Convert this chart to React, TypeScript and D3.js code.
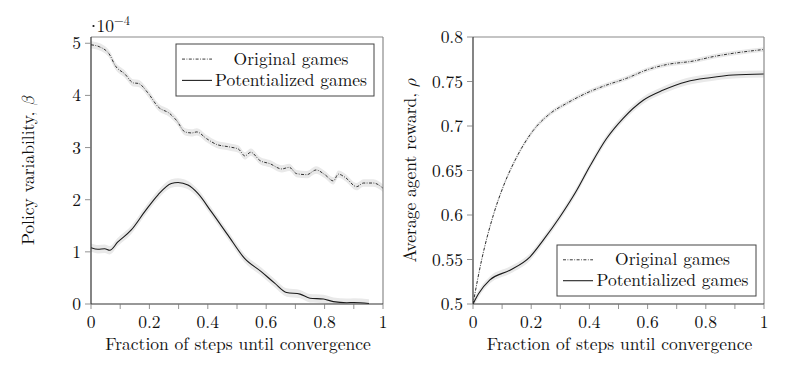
import React from "react";
import * as d3 from "d3";

// ---------- Data ----------
// Left panel: policy variability (×1e-4)
const leftOrigX = [0, 0.03, 0.065, 0.082, 0.116, 0.145, 0.162, 0.196, 0.23, 0.27, 0.293, 0.322, 0.345, 0.362, 0.396, 0.43, 0.476, 0.505, 0.527, 0.547, 0.579, 0.613, 0.653, 0.679, 0.704, 0.739, 0.771, 0.801, 0.83, 0.847, 0.87, 0.91, 0.933, 0.967, 1.0];
const leftOrigY = [4.97, 4.93, 4.77, 4.58, 4.41, 4.24, 4.23, 4.04, 3.78, 3.65, 3.52, 3.3, 3.28, 3.3, 3.17, 3.06, 3.01, 2.97, 2.84, 2.91, 2.75, 2.69, 2.59, 2.62, 2.5, 2.48, 2.57, 2.48, 2.36, 2.49, 2.43, 2.25, 2.32, 2.32, 2.22];
const leftPotX = [0, 0.024, 0.047, 0.064, 0.092, 0.138, 0.184, 0.229, 0.275, 0.298, 0.332, 0.366, 0.412, 0.469, 0.526, 0.583, 0.629, 0.67, 0.716, 0.75, 0.796, 0.83, 0.876, 0.9, 0.952];
const leftPotY = [1.08, 1.05, 1.06, 1.03, 1.19, 1.42, 1.77, 2.09, 2.31, 2.33, 2.28, 2.12, 1.77, 1.32, 0.875, 0.62, 0.4, 0.22, 0.19, 0.11, 0.096, 0.045, 0.025, 0.03, 0.01];
const leftOrigBand = 0.07;
const leftPotBand = 0.08;

// Right panel: average agent reward
const rightOrigX = [0, 0.03, 0.07, 0.104, 0.15, 0.207, 0.265, 0.322, 0.39, 0.459, 0.528, 0.597, 0.665, 0.757, 0.826, 0.894, 1.0];
const rightOrigY = [0.5, 0.55, 0.6, 0.632, 0.665, 0.695, 0.714, 0.7255, 0.737, 0.746, 0.7536, 0.763, 0.769, 0.773, 0.778, 0.7817, 0.786];
const rightPotX = [0, 0.02, 0.058, 0.127, 0.196, 0.242, 0.299, 0.357, 0.402, 0.459, 0.516, 0.585, 0.654, 0.734, 0.814, 0.894, 1.0];
const rightPotY = [0.5, 0.512, 0.527, 0.538, 0.553, 0.572, 0.598, 0.628, 0.655, 0.686, 0.7087, 0.729, 0.7404, 0.7498, 0.7543, 0.7573, 0.7584];
const rightOrigBand = 0.0025;
const rightPotBand = 0.004;

const xTicks = [0, 0.2, 0.4, 0.6, 0.8, 1];
const xMinorTicks = [0, 0.1, 0.2, 0.3, 0.4, 0.5, 0.6, 0.7, 0.8, 0.9, 1];
const leftYTicks = [0, 1, 2, 3, 4, 5];
const rightYTicks = [0.5, 0.55, 0.6, 0.65, 0.7, 0.75, 0.8];
const legendLabels = ["Original games", "Potentialized games"];
const xTitle = "Fraction of steps until convergence";
const exponentBase = "10";
const exponentPower = "−4";

const FONT = `"Latin Modern Roman", "Latin Modern Math", "CMU Serif", "Liberation Serif", "DejaVu Serif", serif`;
const FS = 17.5;
const txt = (size: number = FS): React.CSSProperties => ({ fontFamily: FONT, fontSize: size });

type Pt = { x: number; y: number };
const zip = (xs: number[], ys: number[]): Pt[] => xs.map((x, i) => ({ x, y: ys[i] }));

function fmt(v: number) {
  return String(+v.toFixed(3));
}

function Panel(props: {
  id: string;
  left: number; right: number; top: number; bottom: number;
  yDomain: [number, number]; yTicks: number[];
  orig: Pt[]; pot: Pt[]; origBand: number; potBand: number;
  legend: { x: number; y: number; w: number; h: number };
  yLabel: React.ReactNode; yLabelX: number;
}) {
  const { left, right, top, bottom, yDomain, yTicks, orig, pot, origBand, potBand, legend } = props;
  const x = d3.scaleLinear().domain([0, 1]).range([left, right]);
  const y = d3.scaleLinear().domain(yDomain).range([bottom, top]);
  const line = d3.line<Pt>().x(d => x(d.x)).y(d => y(d.y)).curve(d3.curveMonotoneX);
  const area = (b: number) =>
    d3.area<Pt>().x(d => x(d.x)).y0(d => y(d.y - b)).y1(d => y(d.y + b)).curve(d3.curveMonotoneX);
  const cy = (top + bottom) / 2;
  const sampleX0 = legend.x + 6;
  const sampleX1 = legend.x + 36;
  const textCx = legend.x + legend.w / 2 + 16;
  const row1 = legend.y + legend.h * 0.29;
  const row2 = legend.y + legend.h * 0.7;
  return (
    <g>
      <defs>
        <clipPath id={`clip-${props.id}`}>
          <rect x={left} y={top} width={right - left} height={bottom - top} />
        </clipPath>
      </defs>
      <g clipPath={`url(#clip-${props.id})`}>
        <path d={area(origBand)(orig) || ""} fill="#e9e9e9" />
        <path d={area(potBand)(pot) || ""} fill="#e9e9e9" />
        <path d={line(orig) || ""} fill="none" stroke="#1a1a1a" strokeWidth={0.9} strokeDasharray="3,1.5,0.8,1.5" />
        <path d={line(pot) || ""} fill="none" stroke="#1a1a1a" strokeWidth={1.1} />
      </g>
      {/* frame */}
      <line x1={left} x2={right} y1={top} y2={top} stroke="#8a8a8a" strokeWidth={1.2} />
      <line x1={right} x2={right} y1={top} y2={bottom} stroke="#8a8a8a" strokeWidth={1.2} />
      <line x1={left} x2={left} y1={top} y2={bottom} stroke="#333" strokeWidth={1.2} />
      <line x1={left} x2={right} y1={bottom} y2={bottom} stroke="#333" strokeWidth={1.2} />
      {/* x ticks */}
      {xMinorTicks.map(t => (
        <line key={"xm" + t} x1={x(t)} x2={x(t)} y1={bottom} y2={bottom + 5} stroke="#777" strokeWidth={0.8} />
      ))}
      {xTicks.map(t => (
        <text key={"xt" + t} x={x(t)} y={bottom + 24} textAnchor="middle" style={txt()} fill="#111">
          {fmt(t)}
        </text>
      ))}
      {/* y ticks */}
      {yTicks.map(t => (
        <g key={"yt" + t}>
          <line x1={left - 6} x2={left} y1={y(t)} y2={y(t)} stroke="#777" strokeWidth={0.8} />
          <text x={left - 10} y={y(t) + 6} textAnchor="end" style={txt()} fill="#111">
            {fmt(t)}
          </text>
        </g>
      ))}
      {/* x title */}
      <text x={(left + right) / 2 + 1} y={bottom + 46} textAnchor="middle" style={txt()} fill="#111">
        {xTitle}
      </text>
      {/* y title */}
      <text transform={`translate(${props.yLabelX},${cy}) rotate(-90)`} textAnchor="middle" style={txt()} fill="#111">
        {props.yLabel}
      </text>
      {/* legend */}
      <rect x={legend.x} y={legend.y} width={legend.w} height={legend.h} fill="#fff" stroke="#444" strokeWidth={1} />
      <line x1={sampleX0} x2={sampleX1} y1={row1} y2={row1} stroke="#222" strokeWidth={0.9} strokeDasharray="3,1.5,0.8,1.5" />
      <line x1={sampleX0} x2={sampleX1} y1={row2} y2={row2} stroke="#222" strokeWidth={1.1} />
      <text x={textCx} y={row1 + 5.5} textAnchor="middle" style={txt()} fill="#111">
        {legendLabels[0]}
      </text>
      <text x={textCx} y={row2 + 5.5} textAnchor="middle" style={txt()} fill="#111">
        {legendLabels[1]}
      </text>
    </g>
  );
}

export default function App() {
  const top = 37;
  const bottom = 304;
  return (
    <svg width={792} height={375} style={{ position: "absolute", left: 0, top: 0, background: "#fff" }}>
      <rect width={792} height={375} fill="#fff" />
      <Panel
        id="left"
        left={91} right={383} top={top} bottom={bottom}
        yDomain={[0, 5.12]} yTicks={leftYTicks}
        orig={zip(leftOrigX, leftOrigY)} pot={zip(leftPotX, leftPotY)}
        origBand={leftOrigBand} potBand={leftPotBand}
        legend={{ x: 176, y: 44, w: 198, h: 52 }}
        yLabelX={34}
        yLabel={<>Policy variability, <tspan fontStyle="italic">β</tspan></>}
      />
      <circle cx={93.5} cy={26} r={1.1} fill="#111" />
      <text x={96.5} y={32} style={txt()} fill="#111">
        {exponentBase}
        <tspan dy={-7} style={txt(12.5)}>{exponentPower}</tspan>
      </text>
      <Panel
        id="right"
        left={473} right={764} top={top} bottom={bottom}
        yDomain={[0.5, 0.8]} yTicks={rightYTicks}
        orig={zip(rightOrigX, rightOrigY)} pot={zip(rightPotX, rightPotY)}
        origBand={rightOrigBand} potBand={rightPotBand}
        legend={{ x: 557, y: 245, w: 199, h: 51 }}
        yLabelX={416}
        yLabel={<>Average agent reward, <tspan fontStyle="italic">ρ</tspan></>}
      />
    </svg>
  );
}
